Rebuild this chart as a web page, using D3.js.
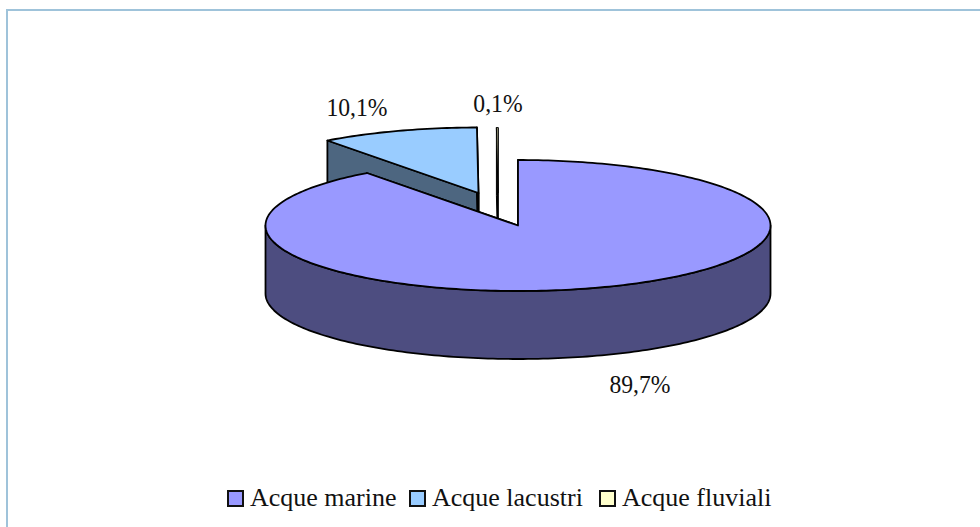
<!DOCTYPE html>
<html><head><meta charset="utf-8">
<script src="https://cdn.jsdelivr.net/npm/d3@7"></script>
<style>html,body{margin:0;padding:0;background:#fff}svg{display:block}text{font-family:"Liberation Serif",serif;fill:#111}</style>
</head><body><script>
const categories = ["Acque marine","Acque lacustri","Acque fluviali"];
const values = [89.7,10.1,0.1];
const labels = ["89,7%","10,1%","0,1%"];
const topColors = ["#9999FF","#99CCFF","#FFFFCC"];
const wallColors = ["#4D4D80","#4D6680","#000000"];
const centers = [[518,225.5],[478.5,193],[498,193]];
const labelPos = [[640,393],[357,116],[498,112]];
const strokeWidths = [1.8,1.8,1];
const rx=252.5, ry=65.5, depth=68;
const W=980,H=527;
const svg=d3.select("body").append("svg").attr("width",W).attr("height",H);
svg.append("path").attr("d",`M7,${H}V10H${W}`).attr("fill","none").attr("stroke","#9FC3DA").attr("stroke-width",2);

const pie=d3.pie().sort(null).value(d=>d).startAngle(0).endAngle(2*Math.PI)(values);
const X=d3.scaleLinear().domain([-1,1]).range([-rx,rx]);
const Y=d3.scaleLinear().domain([-1,1]).range([-ry,ry]);
const line=d3.line();
const pt=(c,a,dy=0)=>[c[0]+X(Math.sin(a)),c[1]-Y(Math.cos(a))+dy];
const arcPts=(c,a0,a1,dy=0)=>{const n=Math.max(2,Math.ceil((a1-a0)/0.02));return d3.range(n+1).map(i=>pt(c,a0+(a1-a0)*i/n,dy));};

[2,1,0].forEach(i=>{
  const c=centers[i],p=pie[i],a0=p.startAngle,a1=p.endAngle,g=svg.append("g");
  const style=s=>s.attr("stroke","#000").attr("stroke-width",strokeWidths[i]).attr("stroke-linejoin","round");
  [a0,a1].forEach(a=>{
    const e=pt(c,a);
    style(g.append("path")).attr("fill",wallColors[i])
      .attr("d",line([c,e,[e[0],e[1]+depth],[c[0],c[1]+depth]])+"Z");
  });
  const lo=Math.max(a0,Math.PI/2),hi=Math.min(a1,3*Math.PI/2);
  if(hi>lo){
    const top=arcPts(c,lo,hi),bot=arcPts(c,lo,hi,depth).reverse();
    style(g.append("path")).attr("fill",wallColors[i]).attr("d",line(top.concat(bot))+"Z");
  }
  style(g.append("path")).attr("fill",topColors[i])
    .attr("d",line([c].concat(arcPts(c,a0,a1)))+"Z");
});

svg.selectAll("text.v").data(labels).join("text").attr("class","v")
  .attr("transform",(d,i)=>`translate(${labelPos[i][0]},${labelPos[i][1]}) scale(0.91,1)`)
  .attr("text-anchor","middle").attr("font-size",26).text(d=>d);

const legendX=[228,410,600];
const lg=svg.selectAll("g.l").data(categories).join("g").attr("class","l")
  .attr("transform",(d,i)=>`translate(${legendX[i]},491)`);
lg.append("rect").attr("width",15).attr("height",15).attr("fill",(d,i)=>topColors[i]).attr("stroke","#111").attr("stroke-width",2);
lg.append("text").attr("x",22).attr("y",15).attr("font-size",26).text(d=>d);
</script></body></html>
